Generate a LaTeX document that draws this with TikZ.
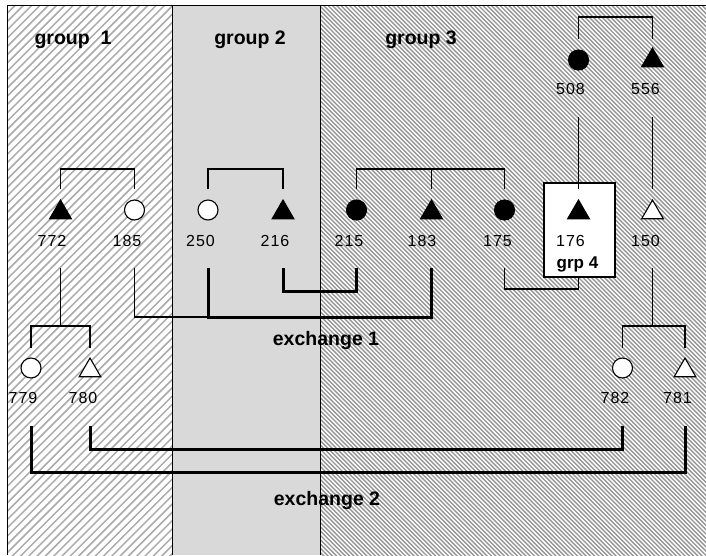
\documentclass[tikz,border=0pt]{standalone}
\usepackage{fontspec}
\setmainfont{Liberation Sans}
\newfontfamily\numfont[LetterSpace=6]{Liberation Sans}
\usetikzlibrary{shapes.geometric}
\definecolor{grouptwo}{RGB}{217,217,217}
\definecolor{hatchone}{RGB}{170,170,170}
\definecolor{hatchthree}{RGB}{150,150,150}
\tikzset{
  sym/.style={inner sep=0pt, outer sep=0pt, line width=1.1pt, draw=black},
  fcirc/.style={sym, circle, minimum size=20pt, fill=black},
  ocirc/.style={sym, circle, minimum size=20pt, fill=white},
  ftri/.style={sym, regular polygon, regular polygon sides=3, minimum size=25pt, fill=black},
  otri/.style={sym, regular polygon, regular polygon sides=3, minimum size=25pt, fill=white},
  num/.style={anchor=base, inner sep=0pt, font=\numfont\fontsize{16}{18}\selectfont},
  glabel/.style={anchor=base, inner sep=0pt, font=\bfseries\fontsize{19.5}{22}\selectfont},
  kin/.style={line width=1.2pt},
  exch/.style={line width=3pt},
  hatchA/.style={draw=hatchone, line width=1.5pt},
  hatchB/.style={draw=hatchthree, line width=1.4pt},
  frameline/.style={line width=1pt},
  boxstyle/.style={draw, fill=white, line width=1.1pt, minimum width=71pt, minimum height=94pt, inner sep=0pt, outer sep=0pt}
}
\begin{document}
\begin{tikzpicture}[x=1pt,y=-1pt]
\useasboundingbox (0,0) rectangle (706,555);
% backgrounds
\fill[white] (0,0) rectangle (706,555);
\fill[grouptwo] (172,5) rectangle (320,555);
\begin{scope}
  \clip (7,5) rectangle (172,555);
  \foreach \i in {-67,...,22} \draw[hatchA] (\i*8.3,560) -- ++(560,-560);
\end{scope}
\begin{scope}
  \clip (320,5) rectangle (706,555);
  \foreach \i in {-58,...,166} \draw[hatchB] (\i*4.3,0) -- ++(560,560);
\end{scope}
% frame
\draw[frameline] (7,555) -- (7,5) -- (706,5);
\draw[frameline] (172,5) -- (172,555);
\draw[frameline] (320,5) -- (320,555);
% group labels
\node[glabel] (g1) at (73,44) {group~~1};
\node[glabel] (g2) at (250,44) {group 2};
\node[glabel] (g3) at (421,44) {group 3};
% grp 4 box
\node[boxstyle] (grp4box) at (579.5,230) {};
\node[anchor=base, inner sep=0pt, font=\bfseries\fontsize{17}{20}\selectfont] (grp4) at (577.5,268) {grp 4};
% symbols
\node[fcirc] (n508) at (578.5,60) {};
\node[ftri] (n556) at (652.5,60.5) {};
\node[ftri] (n772) at (60.5,212.5) {};
\node[ocirc] (n185) at (134.5,210) {};
\node[ocirc] (n250) at (208,210) {};
\node[ftri] (n216) at (283,212.5) {};
\node[fcirc] (n215) at (356.5,210) {};
\node[ftri] (n183) at (431.5,212.5) {};
\node[fcirc] (n175) at (504.5,210) {};
\node[ftri] (n176) at (578.5,212.5) {};
\node[otri] (n150) at (652.5,212.5) {};
\node[ocirc] (n779) at (31,368) {};
\node[otri] (n780) at (90,370.5) {};
\node[ocirc] (n782) at (622.5,368) {};
\node[otri] (n781) at (685,370.5) {};
% number labels
\node[num] (l508) at (570.5,94) {508};
\node[num] (l556) at (645.5,94) {556};
\node[num] (l772) at (52,246) {772};
\node[num] (l185) at (127,246) {185};
\node[num] (l250) at (200.5,246) {250};
\node[num] (l216) at (275,246) {216};
\node[num] (l215) at (349,246) {215};
\node[num] (l183) at (422,246) {183};
\node[num] (l175) at (497.5,246) {175};
\node[num] (l176) at (570.5,246) {176};
\node[num] (l150) at (645.5,246) {150};
\node[num] (l779) at (23,403) {779};
\node[num] (l780) at (83,403) {780};
\node[num] (l782) at (615,403) {782};
\node[num] (l781) at (677.5,403) {781};
% kinship connectors
\draw[kin] (n508 |- 0,39) |- (n556 |- 0,17) -- (n556 |- 0,39);
\draw[kin] (n508 |- 0,117) -- (n176 |- 0,189);
\draw[kin] (n556 |- 0,117) -- (n150 |- 0,189);
\draw[kin] (n772 |- 0,189) |- (n185 |- 0,169) -- (n185 |- 0,189);
\draw[kin] (n250 |- 0,189) |- (n216 |- 0,169) -- (n216 |- 0,189);
\draw[kin] (n215 |- 0,189) |- (n175 |- 0,169) -- (n175 |- 0,189);
\draw[kin] (n183 |- 0,169) -- (n183 |- 0,189);
\draw[kin] (n772 |- 0,268) -- (n772 |- 0,326);
\draw[kin] (n779 |- 0,348) |- (n780 |- 0,326) -- (n780 |- 0,348);
\draw[kin] (n150 |- 0,268) -- (n150 |- 0,326);
\draw[kin] (n782 |- 0,348) |- (n781 |- 0,326) -- (n781 |- 0,348);
\draw[kin] (n185 |- 0,268) |- (n250 |- 0,317);
\draw[kin] (n175 |- 0,268) |- (n176 |- 0,289) -- (n176 |- grp4box.south);
% exchange connectors
\draw[exch] (n250 |- 0,268) |- (n183 |- 0,317) -- (n183 |- 0,268);
\draw[exch] (n216 |- 0,268) |- (n215 |- 0,291) -- (n215 |- 0,268);
\draw[exch] (n780 |- 0,426) |- (n782 |- 0,449) -- (n782 |- 0,426);
\draw[exch] (n779 |- 0,426) |- (n781 |- 0,472) -- (n781 |- 0,426);
% exchange labels
\node[glabel] (ex1) at (326,345) {exchange 1};
\node[glabel] (ex2) at (327,505) {exchange 2};
\end{tikzpicture}
\end{document}
